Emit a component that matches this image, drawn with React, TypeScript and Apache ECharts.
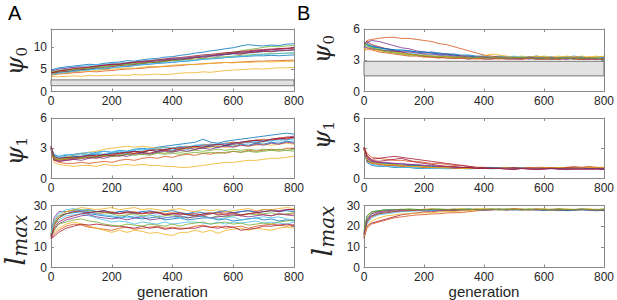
import React, { useEffect, useRef } from "react";
import * as echarts from "echarts";

// generations sampled
const gens = [0, 10, 25, 50, 75, 100, 125, 150, 175, 200,
  225, 250, 275, 300, 325, 350, 375, 400, 425, 450,
  475, 500, 525, 550, 575, 600, 625, 650, 675, 700,
  725, 750, 775, 800];

const xTicks = { min: 0, max: 800, interval: 200 };

// MATLAB default line colours
const palette = ["#0072BD", "#D95319", "#EDB120", "#7E2F8E", "#77AC30", "#4DBEEE", "#A2142F"];

// Panel A, psi_0
const psi0A: number[][] = [
  [4.8,5.0,5.3,5.5,5.7,5.9,6.1,6.0,6.3,6.5, 6.6,6.9,6.8,7.1,7.3,7.4,7.7,7.8,8.1,8.3, 8.6,8.8,9.1,9.3,9.6,9.8,10.2,10.5,10.3,10.2, 10.4,10.3,10.6,10.7],
  [4.2,4.4,4.6,4.9,5.1,5.0,5.4,5.6,5.8,6.0, 6.1,6.3,6.5,6.4,6.8,6.9,7.1,7.2,7.4,7.5, 7.8,7.9,8.1,8.2,8.4,8.6,8.7,8.9,9.1,9.2, 9.3,9.5,9.6,9.7],
  [3.3,3.4,3.3,3.4,3.5,3.4,3.6,3.5,3.6,3.6, 3.7,3.6,3.8,3.7,3.8,3.9,3.8,3.9,4.1,4.2, 4.2,4.4,4.3,4.5,4.7,4.8,4.9,5.0,5.1,5.0, 5.2,5.3,5.3,5.4],
  [4.5,4.3,4.6,4.8,4.7,5.1,5.3,5.5,5.4,5.9, 6.0,6.2,6.1,6.5,6.7,6.6,7.0,7.1,7.3,7.2, 7.6,7.8,8.0,7.9,8.3,8.5,8.4,8.8,8.9,9.1, 9.0,9.3,9.2,9.4],
  [4.0,4.2,4.4,4.6,4.8,5.0,5.2,5.3,5.5,5.7, 5.8,6.0,6.2,6.3,6.5,6.6,6.9,7.0,7.2,7.5, 7.7,7.8,8.1,8.3,8.6,8.8,9.1,9.4,9.6,9.9, 10.1,10.0,10.2,10.3],
  [4.6,4.9,5.1,5.3,5.5,5.7,5.8,6.0,6.1,6.3, 6.4,6.5,6.7,6.8,7.0,7.1,7.2,7.4,7.5,7.6, 7.7,7.9,8.0,8.1,8.3,8.4,8.5,8.6,8.7,8.9, 9.0,9.1,9.2,9.3],
  [4.4,4.1,4.3,4.5,4.4,4.9,5.0,5.3,5.1,5.6, 5.8,5.7,6.1,6.2,6.5,6.4,6.8,7.0,7.1,7.4, 7.6,7.5,7.9,8.2,8.3,8.5,8.4,8.7,8.8,9.0, 8.9,9.1,9.2,9.3],
  [3.9,4.0,4.2,4.3,4.6,4.7,4.9,5.1,5.0,5.3, 5.5,5.6,5.8,6.0,6.1,6.3,6.4,6.5,6.7,6.8, 7.0,7.2,7.3,7.4,7.6,7.7,7.8,7.9,8.0,8.0, 8.1,8.0,8.1,8.2],
  [3.6,3.8,3.9,4.0,4.2,4.3,4.5,4.4,4.6,4.7, 4.9,5.0,5.1,5.2,5.4,5.5,5.6,5.7,5.8,6.0, 6.1,6.2,6.3,6.4,6.5,6.5,6.6,6.7,6.8,6.8, 6.9,6.9,7.0,7.0],
  [3.8,4.0,4.1,4.2,4.4,4.6,4.5,4.7,4.9,5.0, 5.1,5.3,5.2,5.4,5.6,5.5,5.7,5.9,6.0,6.1, 6.0,6.2,6.3,6.4,6.5,6.4,6.6,6.5,6.6,6.7, 6.6,6.7,6.7,6.8],
  [4.9,4.7,5.0,5.2,5.4,5.5,5.4,5.7,5.9,6.1, 6.0,6.3,6.5,6.7,6.6,6.9,7.1,7.3,7.2,7.5, 7.7,7.9,8.0,8.2,8.4,8.6,8.8,8.9,9.1,9.2, 9.4,9.5,9.6,9.8],
  [4.3,4.5,4.7,4.9,5.0,5.2,5.3,5.5,5.6,5.8, 5.9,6.1,6.2,6.3,6.5,6.6,6.7,6.9,7.0,7.1, 7.3,7.4,7.5,7.7,7.8,7.9,8.1,8.2,8.3,8.4, 8.5,8.5,8.6,8.6],
  [3.7,3.9,4.1,4.3,4.5,4.7,4.8,5.0,5.2,5.3, 5.5,5.7,5.8,6.0,6.2,6.3,6.5,6.6,6.8,6.9, 7.0,7.2,7.4,7.5,7.6,7.8,7.9,8.0,8.2,8.3, 8.4,8.5,8.6,8.7],
  [4.1,4.3,4.6,4.8,5.1,5.3,5.5,5.7,5.9,6.1, 6.2,6.4,6.6,6.8,6.9,7.1,7.3,7.5,7.6,7.8, 8.0,8.2,8.3,8.5,8.7,8.8,9.0,9.1,9.3,9.4, 9.5,9.6,9.7,9.8],
];
const psi0AColors = [0, 1, 2, 3, 4, 5, 6, 0, 1, 2, 3, 4, 5, 6];

// Panel A, psi_1
const psi1A: number[][] = [
  [3.1,2.4,2.2,2.3,2.4,2.5,2.4,2.6,2.7,2.6, 2.8,2.7,2.9,3.0,2.9,3.1,3.2,3.3,3.4,3.5, 3.6,3.9,3.6,3.5,3.7,3.8,3.9,4.0,4.1,4.2, 4.3,4.4,4.5,4.4],
  [3.0,1.9,1.6,1.5,1.5,1.6,1.5,1.6,1.7,1.6, 1.8,1.9,1.8,2.0,2.1,2.0,2.2,2.1,2.3,2.4, 2.3,2.5,2.4,2.6,2.5,2.7,2.6,2.8,2.7,2.8, 2.9,2.8,3.0,3.0],
  [3.0,1.6,1.4,1.3,1.2,1.3,1.3,1.2,1.4,1.3, 1.3,1.4,1.3,1.4,1.3,1.3,1.2,1.2,1.1,1.1, 1.2,1.3,1.4,1.5,1.6,1.6,1.7,1.8,1.8,1.9, 2.0,2.0,2.1,2.2],
  [3.2,2.1,1.9,2.0,2.2,2.1,2.3,2.2,2.4,2.5, 2.4,2.6,2.7,2.6,2.8,2.9,2.8,3.0,3.1,3.0, 3.2,3.3,3.2,3.4,3.5,3.4,3.6,3.7,3.8,3.7, 3.9,4.0,4.1,4.2],
  [3.0,2.0,1.8,1.9,2.0,2.1,2.0,2.2,2.3,2.2, 2.3,2.4,2.5,2.4,2.5,2.6,2.5,2.7,2.6,2.7, 2.8,2.7,2.8,2.9,2.8,2.9,2.8,2.9,2.8,2.9, 2.8,2.9,2.8,2.9],
  [3.1,2.3,2.1,2.2,2.3,2.4,2.3,2.5,2.4,2.6, 2.7,2.6,2.8,2.9,2.8,3.0,3.1,3.0,3.2,3.1, 3.3,3.4,3.3,3.5,3.4,3.6,3.5,3.7,3.6,3.8, 3.7,3.9,3.8,4.0],
  [2.9,1.8,1.7,1.8,1.9,2.0,2.1,2.0,2.2,2.3, 2.2,2.4,2.5,2.6,2.5,2.7,2.8,2.7,2.9,3.0, 2.9,3.1,3.2,3.1,3.3,3.4,3.5,3.6,3.5,3.7, 3.8,3.9,4.0,4.1],
  [3.0,2.2,2.0,2.1,2.2,2.2,2.3,2.4,2.3,2.5, 2.6,2.5,2.7,2.6,2.8,2.7,2.9,2.8,3.0,2.9, 3.1,3.0,3.2,3.1,3.3,3.2,3.4,3.3,3.5,3.4, 3.6,3.5,3.7,3.6],
  [3.1,2.0,1.8,1.9,2.1,2.0,2.2,2.3,2.2,2.4, 2.5,2.6,2.5,2.7,2.8,2.9,2.8,3.0,3.1,3.2, 3.1,3.3,3.4,3.3,3.5,3.6,3.5,3.7,3.8,3.9, 3.8,4.0,4.1,4.0],
  [3.0,2.1,1.9,2.1,2.3,2.5,2.6,2.7,2.9,3.0, 3.1,3.2,3.1,3.2,3.1,3.0,3.1,3.0,2.9,3.0, 3.1,3.0,3.1,3.2,3.1,3.2,3.3,3.2,3.3,3.4, 3.3,3.4,3.5,3.4],
  [3.0,1.9,1.7,1.8,1.9,1.8,2.0,2.1,2.0,2.2, 2.3,2.2,2.4,2.5,2.4,2.6,2.7,2.6,2.8,2.7, 2.9,3.0,2.9,3.1,3.2,3.1,3.3,3.2,3.4,3.3, 3.5,3.4,3.6,3.5],
  [3.1,2.0,1.9,2.0,2.1,2.0,2.2,2.1,2.3,2.2, 2.3,2.4,2.3,2.4,2.3,2.5,2.4,2.5,2.4,2.5, 2.6,2.5,2.6,2.5,2.6,2.7,2.6,2.7,2.6,2.7, 2.8,2.7,2.8,2.7],
  [3.0,2.3,2.2,2.4,2.3,2.5,2.6,2.5,2.7,2.6, 2.8,2.7,2.9,2.8,3.0,2.9,3.1,3.0,3.2,3.1, 3.3,3.2,3.4,3.3,3.5,3.4,3.6,3.5,3.7,3.6, 3.8,3.7,3.9,3.8],
  [3.2,2.2,2.0,2.1,2.0,2.2,2.3,2.2,2.4,2.3, 2.5,2.6,2.7,2.6,2.8,2.7,2.9,3.0,2.9,3.1, 3.2,3.1,3.3,3.4,3.3,3.5,3.6,3.7,3.8,3.7, 3.9,4.0,3.9,4.1],
];
const psi1AColors = [0, 1, 2, 3, 4, 5, 6, 0, 1, 2, 3, 4, 5, 6];

// Panel A, l_max
const lmaxA: number[][] = [
  [16,21,24,26,26.5,27,26,25.5,25,24.5, 24,25,24,23.5,24,24.5,23,23.5,24,23, 23.5,24,24,23,23.5,22.5,23,23.5,24,23, 23.5,22.5,23,22.5],
  [14,16,18,20,21,20.5,19.5,19,18.5,18, 19,19.5,18.5,19,19.5,20,19,19.5,19,19, 20,20.5,19.5,20,19,19.5,20,19,20,20.5, 21,20.5,20,20.5],
  [15,17,19,21,22,21,20,19,18,17, 18,17,18,17.5,16.5,17,16,15.5,17,17, 18,17,18,16.5,18,18.5,19,18,19,18.5, 18,19,19.5,19],
  [16,24,27,27,27.5,27,26.5,27,27,26, 27,26.5,26,27,26,26.5,25.5,26,25.5,26, 26,25.5,26,26.5,27,26.5,27,27.5,27,28, 28,27.5,28,28],
  [15,21,24,27,28,28,27.5,27,26.5,26, 25,25.5,26,25,25.5,24.5,25,25.5,24.5,24, 25,24.5,24,25,24.5,25,25.5,26,25.5,26, 26.5,25.5,26,26.5],
  [15,20,23,25,25.5,26,25,24,23,22, 22.5,22,21,22,21.5,21,22,21,21.5,22, 22,21.5,21,22,21,22,21.5,22,22.5,21.5, 22,21.5,21,22],
  [14,15,17,19,20,21,20.5,21,20.5,20, 20,19.5,19,20,19,19.5,18.5,19,18.5,19, 19,20,19.5,19,20,19.5,18,18.5,19,20, 20,20.5,21,20.5],
  [16,22,25,26,27,27.5,28,27,27.5,26.5, 27,27.5,26.5,27,27.5,26.5,27,27.5,26.5,26, 27,26.5,26,27,27.5,26.5,27,27.5,26.5,27, 27.5,27,27.5,27],
  [15,20,24,26,27,27.5,27,26,26.5,27, 26,26.5,27,26,26.5,27,26,26.5,26,25.5, 26,25,26,26.5,25.5,26,25,26,26.5,25.5, 25,26,25.5,26],
  [16,22,25,27,28,29,28.5,28,28.5,29, 28,28.5,29,28,28.5,28,27.5,28,28.5,27.5, 27,28,27.5,28,27,27.5,28,28.5,27.5,28, 28,28.5,29,28.5],
  [14,18,21,23,24,25,25.5,24.5,24,23.5, 24,23,24,24.5,23,23.5,24,24.5,25,24, 24.5,25,24,24.5,25,25.5,25,24.5,25,25.5, 25,26,25.5,25],
  [15,18,21,22,23,23.5,22.5,22,21,20.5, 20,21,20.5,20,21,20.5,20,21,20,21, 21.5,22,21,21.5,22,21,21.5,20.5,21,21.5, 21,22,22.5,23],
  [16,23,26,28,28.5,27.5,27,26,25.5,25, 24.5,24,25,24.5,25,25.5,24,24.5,24,25, 25.5,24.5,24,23.5,24,24.5,23,23.5,24,24.5, 24,24.5,23.5,23],
  [15,19,22,24,25,26,26.5,27,27.5,26.5, 26,27,26.5,26,27,26.5,25.5,26,26.5,25.5, 25,26,26.5,25.5,26,26.5,25.5,26,26.5,27, 27.5,27,28,28],
];
const lmaxAColors = [0, 1, 2, 3, 4, 5, 6, 0, 1, 2, 3, 4, 5, 6];

// Panel B, psi_0
const psi0B: number[][] = [
  [4.2,4.6,4.4,4.2,4.1,4.0,3.9,3.9,3.8,3.7, 3.8,3.7,3.6,3.6,3.5,3.5,3.4,3.4,3.3,3.4, 3.3,3.3,3.2,3.3,3.4,3.3,3.3,3.2,3.3,3.4, 3.3,3.2,3.3,3.3],
  [4.3,4.9,5.0,5.1,5.2,5.2,5.1,5.1,5.0,4.9, 4.8,4.6,4.5,4.3,4.1,3.9,3.7,3.5,3.4,3.3, 3.3,3.2,3.3,3.2,3.2,3.3,3.2,3.2,3.3,3.2, 3.2,3.3,3.2,3.2],
  [4.0,4.3,4.2,4.0,3.9,3.8,3.6,3.5,3.5,3.4, 3.4,3.3,3.3,3.3,3.2,3.3,3.3,3.4,3.6,3.5, 3.4,3.3,3.4,3.3,3.3,3.4,3.3,3.4,3.3,3.3, 3.4,3.3,3.4,3.3],
  [4.5,4.7,4.9,4.8,4.6,4.4,4.2,4.1,3.9,3.8, 3.7,3.6,3.6,3.5,3.4,3.4,3.3,3.3,3.2,3.2, 3.3,3.2,3.2,3.1,3.2,3.2,3.1,3.2,3.1,3.2, 3.1,3.1,3.2,3.1],
  [4.4,4.5,4.3,4.1,3.9,3.8,3.7,3.6,3.5,3.4, 3.4,3.3,3.3,3.2,3.3,3.2,3.2,3.2,3.3,3.2, 3.2,3.3,3.2,3.2,3.1,3.2,3.2,3.1,3.2,3.2, 3.1,3.2,3.2,3.1],
  [4.1,4.4,4.3,4.2,4.0,3.9,3.8,3.7,3.6,3.6, 3.5,3.5,3.4,3.4,3.3,3.4,3.3,3.3,3.2,3.3, 3.3,3.4,3.3,3.3,3.2,3.3,3.2,3.3,3.3,3.2, 3.3,3.2,3.2,3.3],
  [4.6,4.8,4.5,4.3,4.1,3.9,3.8,3.6,3.5,3.4, 3.3,3.3,3.2,3.2,3.2,3.1,3.2,3.1,3.1,3.2, 3.1,3.1,3.1,3.2,3.1,3.1,3.1,3.1,3.2,3.1, 3.1,3.1,3.1,3.1],
  [4.7,4.5,4.3,4.2,4.1,4.0,4.0,3.9,3.8,3.8, 3.7,3.6,3.6,3.5,3.4,3.4,3.3,3.3,3.3,3.2, 3.2,3.3,3.2,3.3,3.2,3.2,3.3,3.2,3.2,3.2, 3.3,3.2,3.2,3.2],
  [3.9,4.1,4.0,3.8,3.7,3.6,3.5,3.4,3.4,3.3, 3.3,3.2,3.3,3.2,3.2,3.2,3.1,3.2,3.2,3.1, 3.2,3.2,3.1,3.2,3.2,3.1,3.2,3.1,3.2,3.2, 3.1,3.2,3.1,3.2],
  [4.2,4.0,4.1,3.9,3.8,3.7,3.7,3.6,3.5,3.5, 3.4,3.4,3.3,3.3,3.4,3.3,3.2,3.3,3.3,3.2, 3.3,3.3,3.2,3.3,3.4,3.3,3.2,3.3,3.4,3.3, 3.2,3.3,3.3,3.4],
  [4.3,4.2,4.1,4.0,3.9,3.9,3.8,3.8,3.7,3.6, 3.6,3.5,3.5,3.4,3.4,3.3,3.3,3.3,3.2,3.3, 3.2,3.2,3.2,3.3,3.2,3.2,3.2,3.2,3.1,3.2, 3.2,3.2,3.1,3.2],
  [4.8,4.4,4.2,4.0,3.8,3.7,3.6,3.5,3.5,3.4, 3.4,3.3,3.4,3.3,3.3,3.2,3.3,3.2,3.2,3.3, 3.2,3.2,3.3,3.2,3.2,3.2,3.1,3.2,3.2,3.1, 3.2,3.2,3.2,3.1],
];
const psi0BColors = [0, 1, 2, 3, 4, 5, 6, 0, 1, 2, 3, 4];

// Panel B, psi_1
const psi1B: number[][] = [
  [2.9,1.6,1.3,1.2,1.2,1.1,1.1,1.1,1.0,1.0, 1.0,1.05,1.0,1.1,1.0,0.95,1.0,1.05,1.0,1.1, 1.0,0.95,1.0,1.05,1.0,1.1,1.0,0.95,1.0,1.05, 1.0,1.0,1.05,1.0],
  [3.1,2.5,2.1,2.0,1.9,1.8,1.8,1.7,1.7,1.6, 1.5,1.5,1.4,1.3,1.3,1.2,1.1,1.1,1.1,1.0, 1.1,1.0,1.1,1.0,1.1,1.1,1.0,1.1,1.0,1.1, 1.1,1.2,1.1,1.1],
  [3.0,1.8,1.5,1.4,1.3,1.3,1.2,1.2,1.1,1.1, 1.1,1.0,1.0,1.0,1.05,1.0,1.1,1.0,1.0,1.0, 1.1,1.0,1.0,1.1,1.0,1.0,1.05,1.0,1.1,1.0, 1.1,1.0,1.0,1.05],
  [3.0,2.0,1.7,1.6,1.5,1.5,1.4,1.4,1.3,1.3, 1.2,1.2,1.1,1.1,1.1,1.0,1.0,1.0,1.0,1.0, 1.0,0.9,1.0,1.0,0.9,1.0,1.0,1.0,0.9,1.0, 1.0,1.0,1.0,0.9],
  [2.9,1.9,1.6,1.5,1.4,1.4,1.3,1.3,1.3,1.2, 1.2,1.1,1.1,1.1,1.0,1.1,1.0,1.0,1.0,1.0, 1.0,1.05,1.0,1.0,0.95,1.0,1.0,1.1,1.0,1.0, 1.0,1.05,1.0,1.0],
  [3.0,1.7,1.4,1.3,1.2,1.2,1.1,1.1,1.1,1.0, 1.0,1.0,0.95,1.0,1.0,1.05,1.0,1.0,0.95,1.0, 1.0,1.0,1.1,1.0,1.0,1.0,0.95,1.0,1.0,1.0, 1.05,1.0,1.0,1.0],
  [3.0,2.3,1.9,2.0,2.1,2.2,2.1,2.0,1.9,1.8, 1.7,1.6,1.5,1.4,1.3,1.2,1.1,1.1,1.0,1.0, 1.0,1.1,1.0,1.0,1.0,1.1,1.0,1.0,1.1,1.0, 1.0,1.0,1.1,1.0],
  [3.0,1.8,1.6,1.5,1.5,1.4,1.3,1.3,1.3,1.2, 1.2,1.1,1.1,1.1,1.0,1.0,1.0,1.0,1.1,1.0, 1.0,1.0,1.0,1.0,1.0,1.0,1.0,1.0,1.0,1.0, 1.0,1.0,1.0,1.0],
  [2.9,1.7,1.5,1.4,1.3,1.3,1.2,1.2,1.2,1.1, 1.1,1.1,1.1,1.0,1.0,1.0,1.0,1.0,1.0,1.0, 1.0,1.0,1.0,1.1,1.0,1.0,1.1,1.0,1.1,1.2, 1.1,1.1,1.0,1.1],
  [3.0,1.9,1.6,1.5,1.4,1.4,1.3,1.2,1.2,1.2, 1.1,1.1,1.1,1.1,1.0,1.0,1.0,1.0,1.0,1.0, 1.0,1.0,1.0,1.0,1.0,1.1,1.0,1.1,1.0,1.0, 1.0,1.1,1.1,1.1],
  [3.1,2.1,1.7,1.6,1.6,1.5,1.5,1.4,1.4,1.3, 1.3,1.2,1.2,1.1,1.1,1.1,1.0,1.0,1.0,1.0, 1.0,1.0,1.0,1.0,1.0,1.0,1.0,1.0,1.0,1.0, 1.0,1.0,1.0,1.0],
  [3.1,2.2,1.8,1.7,1.8,1.9,2.0,1.8,1.6,1.5, 1.4,1.3,1.2,1.2,1.1,1.1,1.0,1.0,1.0,1.0, 0.9,0.9,1.0,0.9,0.9,0.9,1.0,0.9,0.9,0.9, 0.9,0.9,0.9,0.9],
];
const psi1BColors = [0, 1, 2, 3, 4, 5, 6, 0, 1, 2, 3, 6];

// Panel B, l_max
const lmaxB: number[][] = [
  [16,23,25,26,26.5,27,27.2,27.5,27.6,27.5, 27.6,27.9,28,27.8,28,28.1,28,27.9,28.1,28, 28.2,28,27.9,28.1,28,28.2,27.6,27.5,27.9,28, 28.1,27.8,27.4,27.8],
  [15,19,21,22,23,24,24.5,25,25.4,25.6, 25.9,26,26.4,26.5,26.6,27,27.4,27.9,28,28.1, 28,28.4,28.1,27.9,28.3,28,28.1,28.4,28,27.9, 28,28.1,27.9,27.5],
  [17,24,26,27,27.5,27.9,28,28.1,28,28.2, 28.4,28,28.1,28.2,28.5,28.1,28.4,28.5,28.2,28.4, 28.1,28.5,28.4,28,28.2,28.5,28.1,28,28.4,28.1, 28,28.4,28.1,28.2],
  [15,22,25,26.5,27,27.4,27.6,27.8,28,27.9, 28.1,27.9,28,28.2,27.9,28,28.1,27.8,28,28.1, 27.9,28,28.2,27.9,28,28.1,27.9,28,27.8,28, 28.1,27.9,28,27.7],
  [16,24,26.5,27.5,27.9,28.1,28,28.4,28.1,28, 28.2,28.4,28.1,28,28.2,28.4,28,28.1,28.4,28, 28.4,28.1,28,28.4,28.1,27.9,28,28.4,28.1,28, 28.4,28.1,28,28.3],
  [15,21,24,25.5,26,26.5,27,27.1,27.4,27.5, 27.6,27.5,27.9,28,27.8,28,28.1,27.9,28,28.3, 28,27.9,28.1,28,27.8,28,28.1,27.9,28,28.1, 27.9,28,28.1,27.9],
  [14,20,21.5,22.5,23.5,24.5,25.5,26,26.4,26.9, 27,27.4,27.5,27.5,27.9,28,28.1,27.9,28,28.1, 27.9,28.3,28,28.1,27.9,28,28.1,27.9,28,28.1, 28,27.9,28,28.1],
  [17,25,27,27.5,27.9,28,28.1,27.9,28,28.1, 27.9,28,28.1,27.9,28,28.2,27.9,28,28.1,27.9, 28,28.1,27.9,28,28.1,27.5,27.9,28,27.5,27.6, 27.9,28,28.1,27.4],
  [16,22,24.5,26,26.5,27,27.4,27.5,27.6,27.9, 28,28.1,27.9,28,28.1,28,27.9,28.1,28,28.2, 28,28.1,27.9,28,28.2,28.1,28,27.9,28.1,28, 28.2,28,28.1,27.9],
  [15,20,22.5,24,25,25.4,25.9,26,26.3,26.5, 26.4,26.9,27,27.1,27.4,27.5,27.9,28,28.1,27.9, 28,28.2,28,27.9,28.1,28,27.8,28,28.1,27.9, 28,28.2,27.9,28],
  [16,23,26,27,27.5,27.9,28,28.1,27.9,28, 28.1,27.9,28,28.1,27.9,28,28.1,28,27.9,28.1, 28,27.9,28.1,28,28,27.9,28.1,28,27.9,28, 28.1,28,27.9,28],
  [18,25,27,27.5,27.9,28,28.2,28,28.1,28, 28.2,28.1,28,28.2,28.1,28,28.2,28.1,28.3,28, 28.1,28.2,28,28.1,28.3,28,28.1,28.2,28,28.1, 28.3,28.1,28,28.2],
];
const lmaxBColors = [0, 1, 2, 3, 4, 5, 6, 0, 1, 2, 3, 4];

// shaded bands (lower, upper) in the psi_0 panels
const bandA = [1.3, 2.6];
const bandB = [1.5, 2.9];

// y-axis ranges: [max, interval]
const yRanges = [[14, 5], [6, 3], [30, 10], [6, 3], [6, 3], [30, 10]];

const AXIS = "#8a8a8a";
const TXT = "#262626";
const SANS = "Liberation Sans, Arial, Helvetica, sans-serif";
const SERIF = "DejaVu Serif, serif";

function buildOption() {
  const grids = [
    { left: 51, top: 29, width: 243, height: 62.5 },
    { left: 51, top: 118, width: 243, height: 60.5 },
    { left: 51, top: 205.5, width: 243, height: 62 },
    { left: 364, top: 29, width: 241, height: 62.5 },
    { left: 364, top: 118, width: 241, height: 60.5 },
    { left: 364, top: 205.5, width: 241, height: 62 },
  ];
  const panels = [
    { lines: psi0A, colors: psi0AColors, band: bandA },
    { lines: psi1A, colors: psi1AColors, band: null },
    { lines: lmaxA, colors: lmaxAColors, band: null },
    { lines: psi0B, colors: psi0BColors, band: bandB },
    { lines: psi1B, colors: psi1BColors, band: null },
    { lines: lmaxB, colors: lmaxBColors, band: null },
  ];
  const xAxis: any[] = [];
  const yAxis: any[] = [];
  const series: any[] = [];
  grids.forEach((_, i) => {
    const isBottomRow = i === 2 || i === 5;
    const common = {
      type: "value",
      gridIndex: i,
      axisLine: { show: true, onZero: false, lineStyle: { color: AXIS, width: 1 } },
      axisTick: { show: true, inside: true, length: 3, lineStyle: { color: AXIS, width: 1 } },
      splitLine: { show: false },
    };
    xAxis.push({
      ...common,
      ...xTicks,
      position: "bottom",
      axisLabel: { color: TXT, fontSize: 12, margin: 3, fontFamily: SANS },
      name: isBottomRow ? "generation" : "",
      nameLocation: "middle",
      nameGap: 16,
      nameTextStyle: { fontSize: 15, color: TXT, fontFamily: SANS },
    });
    xAxis.push({ ...common, ...xTicks, position: "top", axisLabel: { show: false } });
    const [ymax, yint] = yRanges[i];
    yAxis.push({
      ...common,
      min: 0,
      max: ymax,
      interval: yint,
      position: "left",
      axisLabel: { color: TXT, fontSize: 12, margin: 4, fontFamily: SANS, showMaxLabel: ymax % yint === 0 },
    });
    yAxis.push({ ...common, min: 0, max: ymax, interval: yint, position: "right", axisLabel: { show: false } });

    const p = panels[i];
    if (p.band) {
      series.push({
        type: "line",
        xAxisIndex: 2 * i,
        yAxisIndex: 2 * i,
        data: [],
        z: 1,
        silent: true,
        markArea: {
          silent: true,
          itemStyle: { color: "#e2e2e2", borderColor: "#777", borderWidth: 1 },
          data: [[{ yAxis: p.band[0] }, { yAxis: p.band[1] }]],
        },
      });
    }
    p.lines.forEach((line, k) => {
      series.push({
        type: "line",
        xAxisIndex: 2 * i,
        yAxisIndex: 2 * i,
        data: gens.map((g, j) => [g, line[j]]),
        showSymbol: false,
        symbol: "none",
        silent: true,
        z: 2,
        lineStyle: { width: 0.8, color: palette[p.colors[k]] },
      });
    });
  });

  const psiRich = {
    a: { fontSize: 24, fontFamily: SERIF, fontStyle: "italic", fill: TXT, color: TXT, lineHeight: 28 },
    b: { fontSize: 15, fontFamily: SERIF, fill: TXT, color: TXT, verticalAlign: "bottom", lineHeight: 16 },
  };
  const lRich = {
    a: { fontSize: 27, fontFamily: SERIF, fontStyle: "italic", fill: TXT, color: TXT, lineHeight: 30 },
    b: { fontSize: 20, fontFamily: SERIF, fontStyle: "italic", fill: TXT, color: TXT, verticalAlign: "bottom", lineHeight: 20 },
  };
  const yLabels = [
    { text: "{a|ψ}{b|0}", x: 15, y: 61, rich: psiRich },
    { text: "{a|ψ}{b|1}", x: 15, y: 151, rich: psiRich },
    { text: "{a|l}{b|max}", x: 15, y: 240, rich: lRich },
    { text: "{a|ψ}{b|0}", x: 322, y: 49, rich: psiRich },
    { text: "{a|ψ}{b|1}", x: 322, y: 135, rich: psiRich },
    { text: "{a|l}{b|max}", x: 322, y: 231, rich: lRich },
  ];
  const graphic: any[] = yLabels.map((l) => ({
    type: "text",
    x: l.x,
    y: l.y,
    rotation: Math.PI / 2,
    style: { text: l.text, rich: l.rich, align: "center", verticalAlign: "middle", fill: TXT },
  }));
  graphic.push({ type: "text", left: 8, top: 3, style: { text: "A", fontSize: 20, fontFamily: SANS, fill: "#000" } });
  graphic.push({ type: "text", left: 297, top: 3, style: { text: "B", fontSize: 20, fontFamily: SANS, fill: "#000" } });

  return {
    animation: false,
    backgroundColor: "#fff",
    grid: grids.map((g) => ({ ...g, containLabel: false })),
    xAxis,
    yAxis,
    series,
    graphic,
  };
}

export default function App() {
  const ref = useRef<HTMLDivElement>(null);
  useEffect(() => {
    if (!ref.current) return;
    const chart = echarts.init(ref.current, null, { renderer: "svg" });
    chart.setOption(buildOption());
    return () => chart.dispose();
  }, []);
  return (
    <div
      ref={ref}
      style={{ position: "fixed", left: 0, top: 0, width: 617, height: 300, background: "#fff" }}
    />
  );
}
